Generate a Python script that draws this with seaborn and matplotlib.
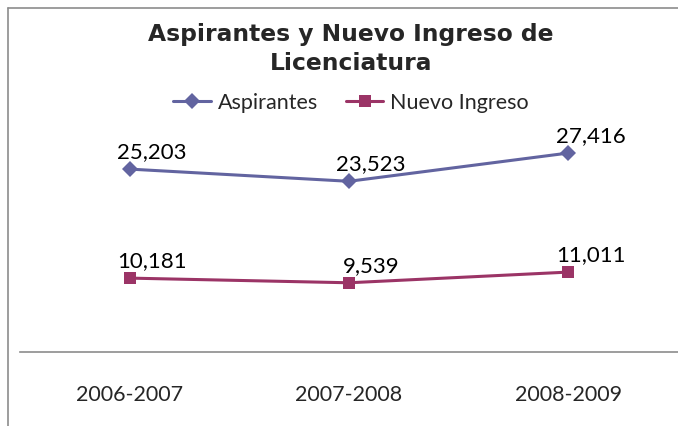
import matplotlib
matplotlib.use("Agg")
import matplotlib.pyplot as plt
import seaborn as sns
import pandas as pd
from matplotlib.lines import Line2D

periodos = ["2006-2007", "2007-2008", "2008-2009"]
aspirantes = [25203, 23523, 27416]
nuevo_ingreso = [10181, 9539, 11011]
series_names = ["Aspirantes", "Nuevo Ingreso"]
colors = ["#6264A0", "#9B3466"]
markers = ["D", "s"]
title = "Aspirantes y Nuevo Ingreso de\nLicenciatura"

df = pd.DataFrame({
    "periodo": periodos * 2,
    "x": list(range(len(periodos))) * 2,
    "valor": aspirantes + nuevo_ingreso,
    "serie": [series_names[0]] * 3 + [series_names[1]] * 3,
})

sns.set_style("white")
plt.rcParams["font.family"] = ["Lato", "DejaVu Sans"]

fig = plt.figure(figsize=(6.78, 4.26), dpi=100)
ax = fig.add_axes([20 / 678, 74 / 426, 658 / 678, 254 / 426])

sns.lineplot(data=df, x="x", y="valor", hue="serie", style="serie",
             palette=dict(zip(series_names, colors)),
             markers=dict(zip(series_names, markers)), dashes=False,
             markersize=8, linewidth=2.2, markeredgewidth=0, ax=ax, legend=False)

for vals in (aspirantes, nuevo_ingreso):
    for i, v in enumerate(vals):
        ax.annotate(f"{v:,}", (i, v), xytext=(16, 5), textcoords="offset points",
                    ha="center", va="bottom", fontsize=16, color="black")

ax.set_xlim(-0.5, 2.5)
ax.set_ylim(0, 35000)
ax.set_xticks(range(len(periodos)))
ax.set_xticklabels(periodos, fontsize=15.5)
ax.tick_params(axis="x", length=0, pad=24)
ax.set_yticks([])
ax.set_xlabel("")
ax.set_ylabel("")
for s in ["top", "right", "left"]:
    ax.spines[s].set_visible(False)
ax.spines["bottom"].set_color("#8c8c8c")
ax.spines["bottom"].set_linewidth(1.2)

fig.text(351 / 678, 1 - 49 / 426, title, ha="center", va="center",
         fontsize=16.8, fontweight="bold", family="DejaVu Sans", linespacing=1.3)

handles = [Line2D([0], [0], color=c, marker=m, markersize=8, linewidth=2.2,
                  markeredgewidth=0) for c, m in zip(colors, markers)]
fig.legend(handles, series_names, loc="center", bbox_to_anchor=(351 / 678, 1 - 103 / 426),
           ncol=2, frameon=False, fontsize=15.5, handlelength=1.75, columnspacing=1.3,
           handletextpad=0.3)

fig.add_artist(Line2D([8 / 678, 1], [1 - 8 / 426, 1 - 8 / 426], color="#8c8c8c", linewidth=1.2,
                      transform=fig.transFigure))
fig.add_artist(Line2D([8 / 678, 8 / 678], [0, 1 - 8 / 426], color="#8c8c8c", linewidth=1.2,
                      transform=fig.transFigure))

fig.savefig("out.png", dpi=100)
